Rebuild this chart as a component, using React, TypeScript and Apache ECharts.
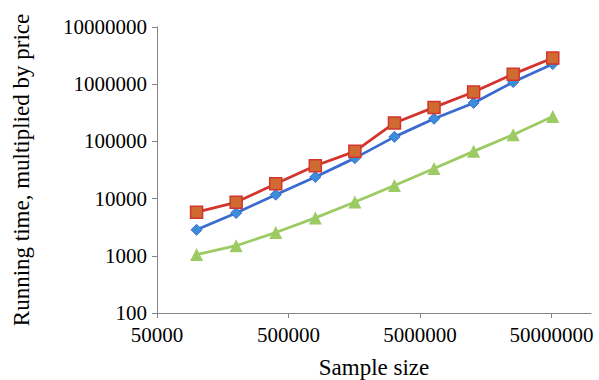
import React, { useEffect, useRef } from "react";
import * as echarts from "echarts";

const sampleSizes = [100000, 200000, 400000, 800000, 1600000, 3200000, 6400000, 12800000, 25600000, 51200000];
const blueValues = [2850, 5600, 11700, 23900, 51000, 120000, 249000, 470000, 1090000, 2250000];
const redValues = [5800, 8600, 18200, 37600, 67000, 210000, 393000, 730000, 1500000, 2870000];
const greenValues = [1050, 1500, 2550, 4600, 8700, 17000, 33700, 67000, 131000, 273000];
const xTickLabels = [50000, 500000, 5000000, 50000000];
const xMin = 50000;
const xMax = 100000000;
const yMin = 100;
const yMax = 10000000;

const FONT = "'Liberation Serif', 'Times New Roman', Times, serif";

export default function App() {
  const ref = useRef<HTMLDivElement>(null);
  useEffect(() => {
    if (!ref.current) return;
    const chart = echarts.init(ref.current, null, { renderer: "svg" });
    const toPts = (vals: number[]) => sampleSizes.map((s, i) => [Math.log10(s), vals[i]]);
    const xTickPos = xTickLabels.map((v) => Math.log10(v));
    const axisLineStyle = { color: "#868686", width: 1 };
    chart.setOption({
      animation: false,
      backgroundColor: "#ffffff",
      textStyle: { fontFamily: FONT },
      grid: {
        left: 157,
        right: 8,
        top: 27,
        bottom: 67,
        containLabel: false,
        outerBoundsMode: "none",
      },
      xAxis: {
        type: "value",
        min: Math.log10(xMin),
        max: Math.log10(xMax),
        name: "Sample size",
        nameLocation: "middle",
        nameGap: 43,
        nameTextStyle: { fontFamily: FONT, fontSize: 23, color: "#000" },
        axisLine: { show: true, lineStyle: axisLineStyle },
        axisTick: { show: true, length: 5, lineStyle: axisLineStyle, customValues: xTickPos },
        splitLine: { show: false },
        axisLabel: {
          customValues: xTickPos,
          fontFamily: FONT,
          fontSize: 21,
          color: "#000",
          margin: 11,
          formatter: (v: number) => String(Math.round(Math.pow(10, v))),
        },
      },
      yAxis: {
        type: "log",
        logBase: 10,
        min: yMin,
        max: yMax,
        name: "Running time, multiplied by price",
        nameLocation: "middle",
        nameGap: 124,
        nameTextStyle: { fontFamily: FONT, fontSize: 23, color: "#000" },
        axisLine: { show: true, lineStyle: axisLineStyle },
        axisTick: { show: true, length: 5, lineStyle: axisLineStyle },
        splitLine: { show: false },
        axisLabel: {
          fontFamily: FONT,
          fontSize: 21,
          color: "#000",
          margin: 10,
          formatter: (v: number) => String(Math.round(v)),
        },
      },
      series: [
        {
          name: "Series 1",
          type: "line",
          data: toPts(blueValues),
          symbol: "diamond",
          symbolSize: 11,
          lineStyle: { color: "#3A6BCF", width: 2.8 },
          itemStyle: { color: "#3C8ED8", borderColor: "#3A6BCF", borderWidth: 1 },
        },
        {
          name: "Series 2",
          type: "line",
          data: toPts(redValues),
          symbol: "rect",
          symbolSize: 12,
          lineStyle: { color: "#D3352E", width: 2.8 },
          itemStyle: { color: "#CF6A30", borderColor: "#D3352E", borderWidth: 1.5 },
        },
        {
          name: "Series 3",
          type: "line",
          data: toPts(greenValues),
          symbol: "triangle",
          symbolSize: 13,
          lineStyle: { color: "#9BCB62", width: 2.8 },
          itemStyle: { color: "#9BCB62", borderColor: "#9BCB62", borderWidth: 0 },
        },
      ],
    });
    return () => chart.dispose();
  }, []);
  return (
    <div
      ref={ref}
      style={{ position: "fixed", left: 0, top: 0, width: 599, height: 380, background: "#fff" }}
    />
  );
}
